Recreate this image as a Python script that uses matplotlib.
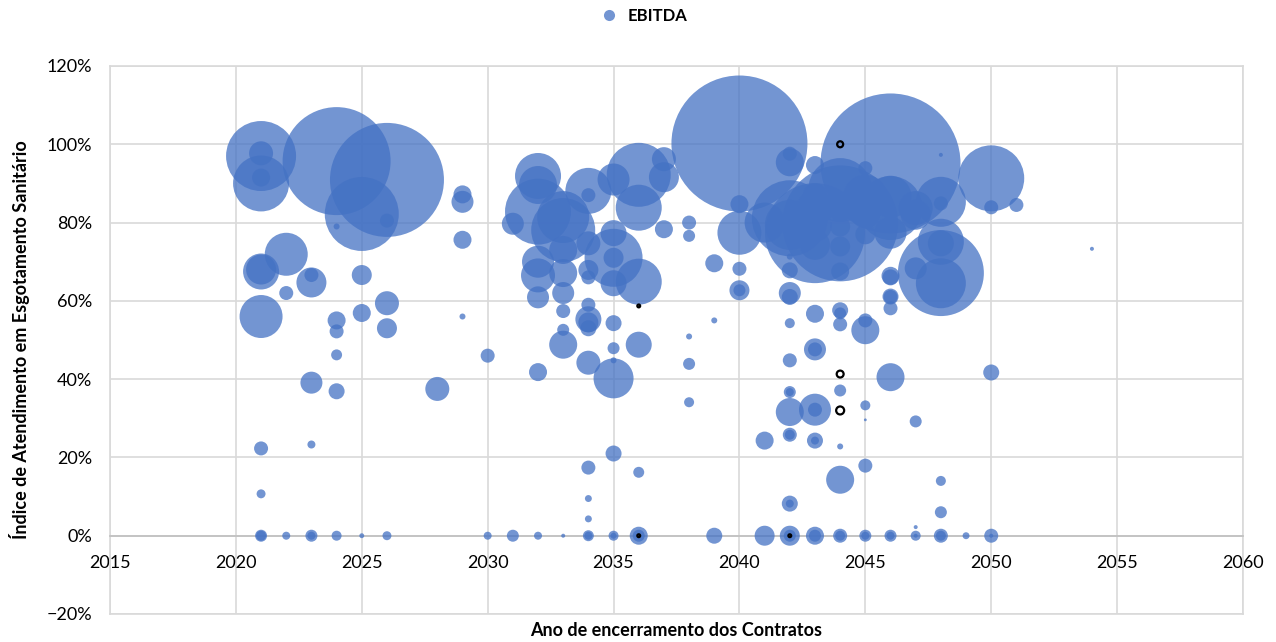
import matplotlib.pyplot as plt
from matplotlib.ticker import PercentFormatter, MultipleLocator
from matplotlib.lines import Line2D

plt.rcParams['font.family'] = ['Lato', 'DejaVu Sans']

# Índice de atendimento (%) por contrato, agrupado por ano de encerramento
atend = [
    97.0, 97.7, 90.0, 91.5, 67.5, 68.0, 56.0, 22.3, 10.7, 0, 0,             # 2021
    71.9, 62.0, 0,                                                            # 2022
    64.7, 66.6, 39.1, 23.3, 0, 0,                                             # 2023
    95.7, 79.0, 55.0, 52.2, 46.2, 36.9, 0,                                    # 2024
    82.2, 66.6, 56.9, 0,                                                      # 2025
    90.9, 80.5, 59.4, 53.0, 0,                                                # 2026
    37.5,                                                                     # 2028
    87.2, 85.3, 75.6, 56.0,                                                   # 2029
    46.0, 0,                                                                  # 2030
    79.7, 0,                                                                  # 2031
    91.9, 89.6, 82.8, 70.0, 66.5, 60.9, 41.8, 0,                              # 2032
    81.4, 78.1, 73.0, 67.1, 62.0, 57.4, 52.6, 48.8, 0,                        # 2033
    88.1, 87.0, 74.7, 67.9, 66.0, 59.0, 55.3, 54.5, 53.0, 44.2, 17.4, 9.5, 4.3, 0, 0,  # 2034
    91.0, 77.3, 71.0, 71.0, 64.5, 54.3, 47.9, 44.8, 40.2, 21.0, 0, 0,        # 2035
    92.2, 83.8, 64.9, 48.8, 16.2, 0, 0,                                       # 2036
    96.2, 91.6, 78.3,                                                         # 2037
    80.0, 76.6, 50.9, 43.9, 34.1,                                             # 2038
    69.6, 55.0, 0,                                                            # 2039
    100.2, 84.7, 77.4, 68.2, 62.7, 62.7,                                      # 2040
    80.0, 24.3, 0,                                                            # 2041
    95.4, 97.6, 81.1, 79.4, 71.3, 67.8, 62.0, 61.0, 54.3, 44.8, 36.7, 36.7,
    31.6, 25.8, 25.8, 8.2, 8.2, 0, 0,                                         # 2042
    94.7, 87.0, 83.8, 79.4, 77.3, 74.3, 56.7, 47.6, 47.6, 32.2, 32.2, 24.3, 24.3, 0, 0,  # 2043
    88.3, 83.8, 79.8, 79.0, 73.9, 67.5, 57.6, 56.8, 54.0, 37.1, 22.8, 14.3, 0, 0,  # 2044
    93.9, 86.6, 82.4, 77.0, 55.0, 52.5, 33.3, 29.6, 17.9, 0, 0,              # 2045
    95.1, 86.6, 83.7, 77.4, 66.4, 66.0, 61.1, 61.0, 58.1, 40.5, 0, 0,        # 2046
    83.7, 82.0, 68.3, 29.2, 2.2, 0, 0,                                        # 2047
    97.3, 85.3, 84.9, 75.1, 74.7, 67.1, 64.5, 14.0, 6.0, 0, 0,               # 2048
    0,                                                                        # 2049
    91.3, 83.9, 41.7, 0, 0,                                                   # 2050
    84.5,                                                                     # 2051
    73.3,                                                                     # 2054
]

ebitda = [
    1225, 144, 784, 81, 324, 225, 462, 49, 20, 36, 25,
    462, 49, 16,
    225, 49, 121, 16, 36, 16,
    2916, 9, 81, 49, 30, 64, 25,
    1369, 100, 81, 6,
    3249, 49, 144, 100, 20,
    144,
    81, 121, 81, 9,
    49, 16,
    121, 36,
    529, 361, 1089, 256, 289, 121, 81, 16,
    676, 1024, 196, 196, 121, 49, 36, 196, 4,
    529, 49, 144, 100, 49, 49, 169, 100, 64, 144, 49, 12, 12, 30, 16,
    256, 169, 841, 100, 169, 64, 36, 9, 400, 64, 25, 9,
    1024, 529, 529, 169, 30, 81, 36,
    144, 225, 81,
    49, 36, 9, 36, 25,
    81, 9, 64,
    4624, 81, 484, 49, 100, 36,
    400, 81, 100,
    196, 49, 1444, 625, 9, 64, 121, 64, 25, 49, 36, 16,
    196, 49, 25, 64, 16, 100, 36,
    81, 144, 324, 289, 2500, 225, 81, 121, 49, 256, 49, 64, 16, 81, 36,
    1024, 169, 3364, 100, 100, 81, 64, 36, 49, 36, 9, 196, 49, 25,
    49, 484, 225, 100, 49, 196, 25, 2, 49, 36, 16,
    4900, 441, 1024, 256, 81, 64, 64, 49, 49, 196, 36, 16,
    289, 225, 121, 36, 4, 25, 4,
    4, 625, 49, 529, 169, 1849, 625, 25, 36, 49, 25,
    12,
    1089, 49, 64, 49, 4,
    49,
    4,
]

contagem = {2021: 11, 2022: 3, 2023: 6, 2024: 7, 2025: 4, 2026: 5, 2028: 1, 2029: 4,
            2030: 2, 2031: 2, 2032: 8, 2033: 9, 2034: 15, 2035: 12, 2036: 7, 2037: 3,
            2038: 5, 2039: 3, 2040: 6, 2041: 3, 2042: 19, 2043: 15, 2044: 14, 2045: 11,
            2046: 12, 2047: 7, 2048: 11, 2049: 1, 2050: 5, 2051: 1, 2054: 1}
ano = []
for a, n in contagem.items():
    ano += [a] * n
assert len(ano) == len(atend) == len(ebitda)

# contratos com EBITDA negativo (bolhas vazadas)
ano_neg = [2044, 2044, 2044, 2036, 2036, 2042]
atend_neg = [100.0, 41.3, 32.0, 58.7, 0, 0]
ebitda_neg = [-9, -12, -16, -2, -2, -2]

escala = (2 * 72 / 100) ** 2

fig = plt.figure(figsize=(12.76, 6.42), dpi=100)
ax = fig.add_axes([110 / 1276, 28 / 642, 1133 / 1276, 548 / 642])

ordem = sorted(range(len(ano)), key=lambda i: -ebitda[i])
ax.scatter([ano[i] for i in ordem], [atend[i] / 100 for i in ordem],
           s=[ebitda[i] * escala for i in ordem], color='#4472C4', alpha=0.75,
           linewidths=0, zorder=3)
ax.scatter(ano_neg, [v / 100 for v in atend_neg], s=[abs(v) * escala for v in ebitda_neg],
           facecolors='none', edgecolors='black', linewidths=1.6, zorder=4)

ax.set_xlim(2015, 2060)
ax.set_ylim(-0.2, 1.2)
ax.xaxis.set_major_locator(MultipleLocator(5))
ax.yaxis.set_major_locator(MultipleLocator(0.2))
ax.yaxis.set_major_formatter(PercentFormatter(1.0, decimals=0))
ax.grid(True, color='#d9d9d9', linewidth=1.2, zorder=0)
ax.set_axisbelow(True)

for lado in ['top', 'right', 'left']:
    ax.spines[lado].set_color('#d9d9d9')
    ax.spines[lado].set_linewidth(1.2)
ax.spines['bottom'].set_position(('data', 0))
ax.spines['bottom'].set_color('#bfbfbf')
ax.spines['bottom'].set_linewidth(1.2)
ax.axhline(-0.2, color='#d9d9d9', linewidth=1.2, clip_on=False)

ax.tick_params(axis='x', length=0, pad=14, labelsize=13)
ax.tick_params(axis='y', length=0, pad=13, labelsize=13)

fig.text(676 / 1276, 1 - 631 / 642, 'Ano de encerramento dos Contratos',
         ha='center', va='center', fontsize=13, fontweight='bold')
fig.text(20 / 1276, 1 - 340 / 642, 'Índice de Atendimento em Esgotamento Sanitário',
         ha='center', va='center', rotation=90, fontsize=13, fontweight='bold')

marcador = Line2D([], [], marker='o', linestyle='none', markersize=8,
                  markerfacecolor='#4472C4', markeredgewidth=0, alpha=0.75)
fig.legend([marcador], ['EBITDA'], loc='center', bbox_to_anchor=(640 / 1276, 1 - 16 / 642),
           frameon=False, handletextpad=0.1, prop={'weight': 'bold', 'size': 12})

fig.savefig('out.png', dpi=100)
